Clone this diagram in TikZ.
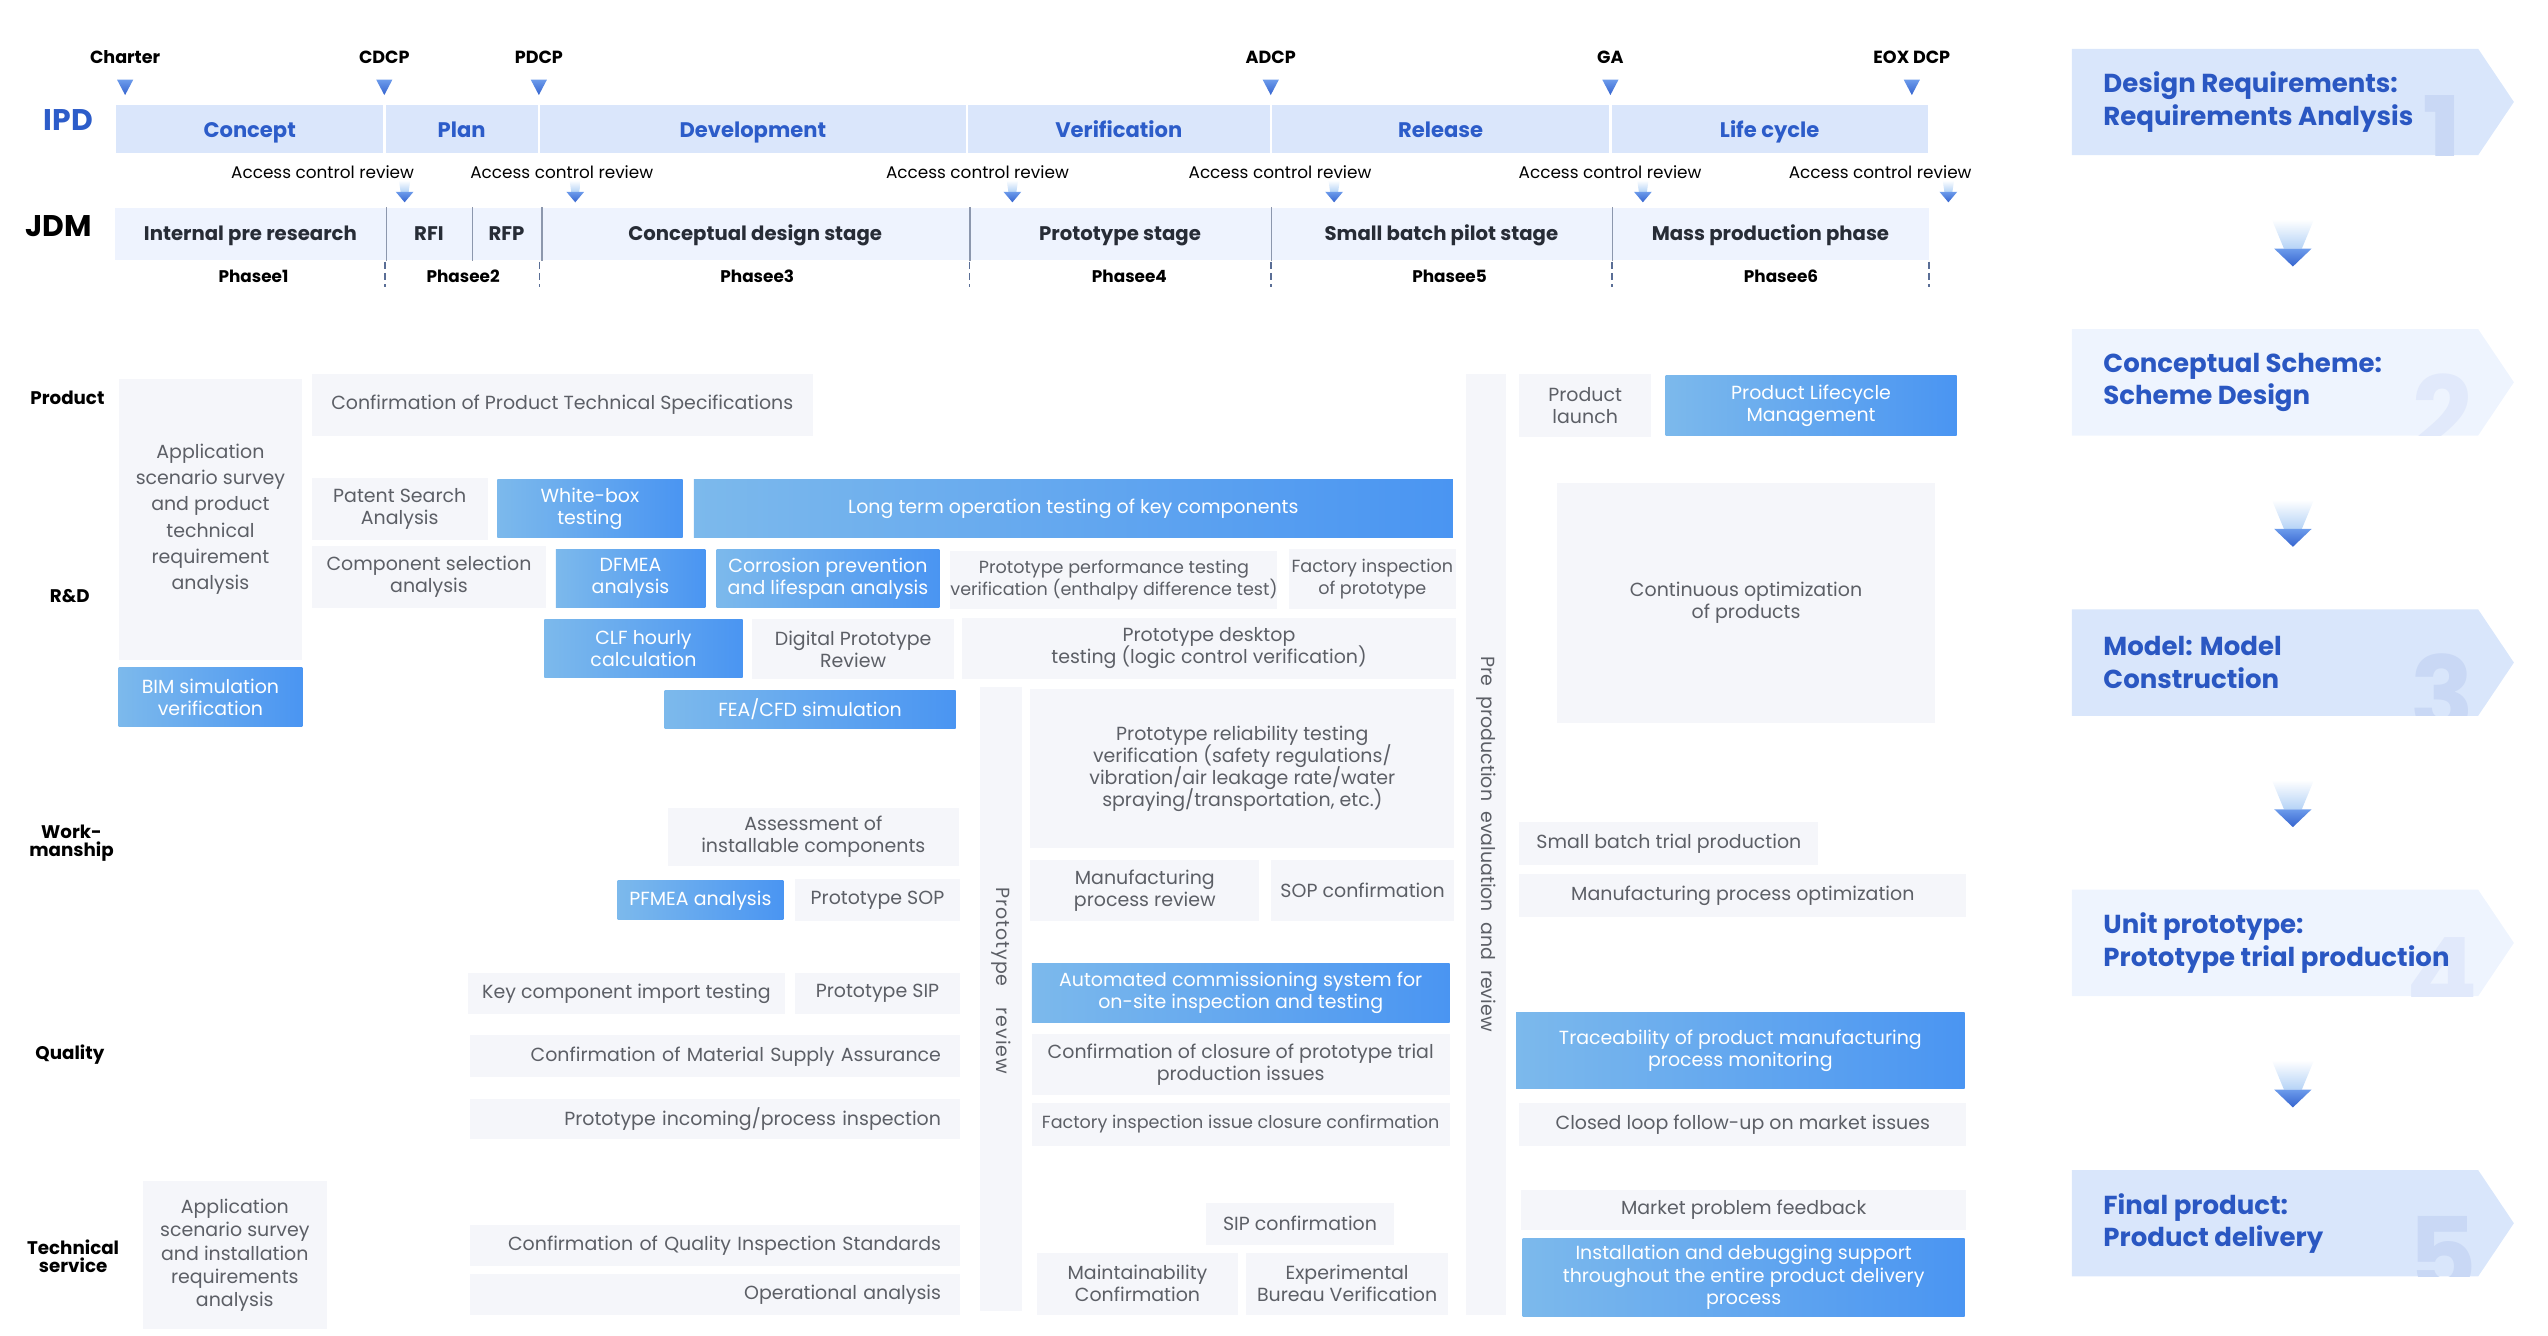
\documentclass[tikz,border=0pt]{standalone}
\usepackage{fontspec}
\setmainfont{Poppins}

\definecolor{cellgray}{HTML}{F5F6FA}
\definecolor{celltext}{HTML}{5C5F66}
\definecolor{blueL}{HTML}{7CB9EC}
\definecolor{blueR}{HTML}{4A95F2}
\definecolor{ipdfill}{HTML}{DAE6FB}
\definecolor{ipdtext}{HTML}{2C5CC9}
\definecolor{jdmfill}{HTML}{EEF3FE}
\definecolor{jdmtext}{HTML}{272C36}
\definecolor{jdmsepcol}{HTML}{8C97AD}
\definecolor{phasecol}{HTML}{5A6E96}
\definecolor{tritop}{HTML}{6C9BEB}
\definecolor{tribot}{HTML}{3564CF}
\definecolor{tailcol}{HTML}{B5D3F6}
\definecolor{chevA}{HTML}{D9E6FB}
\definecolor{chevB}{HTML}{EEF4FE}
\definecolor{numA}{HTML}{C9D8F5}
\definecolor{numB}{HTML}{E1E9FB}
\definecolor{chevtextcol}{HTML}{2A57C2}

\newcommand{\pxu}{0.01625cm}
\newcommand{\bodyfont}{\fontsize{5.4}{6.3}\selectfont\setlength{\lineskiplimit}{-5pt}}
\newcommand{\smallbody}{\fontsize{5}{6.2}\selectfont\setlength{\lineskiplimit}{-5pt}}
% box between two corners: [options]{style}{name}{x1}{y1}{x2}{y2}{text}
\newcommand{\cellbox}[8][]{%
  \node[#2, minimum width={(#6-#4)*\pxu}, minimum height={(#7-#5)*\pxu}, #1]
    (#3) at ({(#4+#6)/2},{(#5+#7)/2}) {#8};}

\tikzset{
  gbox/.style={fill=cellgray, text=celltext, inner sep=0pt, align=center, font=\bodyfont},
  gboxr/.style={gbox, text width=4.52cm, align=right},
  bbox/.style={left color=blueL, right color=blueR, text=white, inner sep=0pt, align=center, font=\bodyfont},
  smallfont/.style={font=\smallbody},
  ipdseg/.style={fill=ipdfill, draw=white, line width=0.7pt, text=ipdtext, inner sep=0pt,
    text height=6.2pt, text depth=1.4pt, font=\fontsize{6}{7}\selectfont\bfseries},
  jdmseg/.style={fill=jdmfill, text=jdmtext, inner sep=0pt,
    text height=5pt, text depth=1.1pt, font=\fontsize{5.6}{7}\selectfont\bfseries},
  jdmsep/.style={draw=jdmsepcol, line width=0.4pt},
  phasesep/.style={draw=phasecol, line width=0.45pt, dash pattern=on 2pt off 1.2pt},
  phaselabel/.style={font=\fontsize{4.8}{6}\selectfont\bfseries, inner sep=0pt},
  milestone/.style={font=\fontsize{5}{6}\selectfont\bfseries, inner sep=0pt},
  review/.style={font=\fontsize{4.8}{6}\selectfont, inner sep=0pt},
  rowlabel/.style={font=\fontsize{5.2}{5.2}\selectfont\bfseries, align=center, inner sep=0pt},
  barlabel/.style={font=\fontsize{8.5}{9}\selectfont\bfseries, inner sep=0pt},
  strip/.style={fill=cellgray, text=celltext, rotate=-90, inner sep=0pt, font=\fontsize{5.4}{6}\selectfont},
  chevtext/.style={anchor=west, align=left, text=chevtextcol, inner sep=0pt, font=\fontsize{7.4}{9.2}\selectfont\bfseries},
  bignum/.style={anchor=base, inner sep=0pt, font=\fontsize{30}{30}\selectfont\bfseries},
}

\begin{document}
\begin{tikzpicture}[x=0.01625cm, y=-0.01625cm]
  \useasboundingbox (0,0) rectangle (1568,822);

  % milestones
  \foreach \nm/\x/\txt in {charter/77/Charter, cdcp/236.5/CDCP, pdcp/331.6/PDCP, adcp/782/ADCP, ga/991/GA, eox/1176.5/EOX DCP}{
    \node[milestone] (\nm) at (\x,35) {\txt};
    \shade[top color=tritop, bottom color=tribot] (\x-5,49) -- (\x+5,49) -- (\x,58.5) -- cycle;
  }

  % IPD bar
  \node[barlabel, text=ipdtext] (ipd) at (42,74) {IPD};
  \foreach \nm/\xa/\xb/\txt in {concept/70.7/236.6/Concept, plan/236.6/331.6/Plan, dev/331.6/595/Development, verif/595/782/Verification, release/782/991/Release, life/991/1187/Life cycle}
    \cellbox{ipdseg}{\nm}{\xa}{64}{\xb}{95}{\txt};

  % access control reviews
  \foreach \i/\lx/\ax in {1/198.5/249, 2/345.7/354, 3/601.5/623, 4/787.7/821, 5/990.8/1011, 6/1157/1199}{
    \node[review] (acr\i) at (\lx,106) {Access control review};
    \shade[top color=white, bottom color=tailcol] (\ax-3.5,111) -- (\ax+3.5,111) -- (\ax+2.5,118) -- (\ax-2.5,118) -- cycle;
    \shade[top color=tritop, bottom color=tribot] (\ax-5.5,118) -- (\ax+5.5,118) -- (\ax,124.5) -- cycle;
  }

  % JDM bar
  \node[barlabel] (jdm) at (36,139) {JDM};
  \foreach \nm/\xa/\xb/\txt in {internalpre/70.7/237.5/Internal pre research, rfi/237.5/290.4/RFI, rfp/290.4/333/RFP, concdesign/333/596.5/Conceptual design stage, protostage/596.5/782/Prototype stage, pilotstage/782/992/Small batch pilot stage, massprod/992/1187/Mass production phase}
    \cellbox{jdmseg}{\nm}{\xa}{128}{\xb}{160}{\txt};
  \foreach \nm in {internalpre, rfi, rfp, concdesign, protostage, pilotstage}
    \draw[jdmsep] (\nm.north east) -- (\nm.south east);

  % phases
  \foreach \x in {237, 332, 596.5, 782, 992, 1187}
    \draw[phasesep] (\x,161) -- (\x,176.5);
  \foreach \i/\x in {1/156, 2/285, 3/466, 4/695, 5/892, 6/1096}
    \node[phaselabel] (phase\i) at (\x,170) {Phasee\i};

  % row labels
  \node[rowlabel] (product) at (41.5,245) {Product};
  \node[rowlabel] (rnd) at (43,367) {R\&D};
  \node[rowlabel] (workmanship) at (44,519) {Work-\\manship};
  \node[rowlabel] (quality) at (43,649) {Quality};
  \node[rowlabel] (techservice) at (45,773) {Technical\\service};

  % work items
  \cellbox[font=\fontsize{5.4}{7.5}\selectfont]{gbox}{appsurvey}{73}{233}{186}{406}{Application\\scenario survey\\and product\\technical\\requirement\\analysis}
  \cellbox{bbox}{bimsim}{73}{411}{186}{447}{BIM simulation\\verification}
  \cellbox{gbox}{techspec}{192}{230}{500}{268}{Confirmation of Product Technical Specifications}
  \cellbox{gbox}{patent}{192}{294}{300}{332}{Patent Search\\Analysis}
  \cellbox{bbox}{whitebox}{306}{295}{420}{331}{White-box\\testing}
  \cellbox{bbox}{longterm}{427}{295}{894}{331}{Long term operation testing of key components}
  \cellbox{gbox}{compsel}{192}{336}{336}{374}{Component selection\\analysis}
  \cellbox{bbox}{dfmea}{342}{338}{434}{374}{DFMEA\\analysis}
  \cellbox{bbox}{corrosion}{441}{338}{578}{374}{Corrosion prevention\\and lifespan analysis}
  \cellbox[smallfont]{gbox}{perftest}{585}{339}{786}{375}{Prototype performance testing\\verification (enthalpy difference test)}
  \cellbox[smallfont]{gbox}{factinsp}{793}{338}{896}{375}{Factory inspection\\of prototype}
  \cellbox{bbox}{clf}{335}{381}{457}{417}{CLF hourly\\calculation}
  \cellbox{gbox}{digproto}{463}{381}{587}{418}{Digital Prototype\\Review}
  \cellbox{gbox}{desktop}{592}{380}{896}{418}{Prototype desktop\\testing (logic control verification)}
  \cellbox{bbox}{feacfd}{409}{425}{588}{448}{FEA/CFD simulation}
  \cellbox{gbox}{reliab}{634}{424}{895}{522}{Prototype reliability testing\\verification (safety regulations/\\vibration/air leakage rate/water\\spraying/transportation, etc.)}
  \cellbox{gbox}{assess}{411}{497}{590}{533}{Assessment of\\installable components}
  \cellbox{bbox}{pfmea}{380}{542}{482}{566}{PFMEA analysis}
  \cellbox{gbox}{protosop}{489}{541}{591}{567}{Prototype SOP}
  \cellbox{gbox}{mfgreview}{634}{529}{775}{567}{Manufacturing\\process review}
  \cellbox{gbox}{sopconf}{782}{529}{895}{567}{SOP confirmation}
  \cellbox{gbox}{keycomp}{288}{599}{483}{624}{Key component import testing}
  \cellbox{gbox}{protosip}{489}{599}{591}{624}{Prototype SIP}
  \cellbox{bbox}{autocomm}{635}{593}{892}{629}{Automated commissioning system for\\on-site inspection and testing}
  \cellbox{gboxr}{matsupply}{289}{637}{591}{663}{Confirmation of Material Supply Assurance}
  \cellbox{gbox}{closure}{635}{636}{892}{674}{Confirmation of closure of prototype trial\\production issues}
  \cellbox{gboxr}{incoming}{289}{676}{591}{701}{Prototype incoming/process inspection}
  \cellbox[smallfont]{gbox}{factclose}{635}{679}{892}{705}{Factory inspection issue closure confirmation}
  \cellbox[font=\fontsize{5.4}{6.6}\selectfont]{gbox}{tsurvey}{88}{727}{201}{818}{Application\\scenario survey\\and installation\\requirements\\analysis}
  \cellbox{gbox}{sipconf}{742}{740}{858}{766}{SIP confirmation}
  \cellbox{gboxr}{qistd}{289}{754}{591}{779}{Confirmation of Quality Inspection Standards}
  \cellbox{gboxr}{opanalysis}{289}{784}{591}{809}{Operational analysis}
  \cellbox{gbox}{maintain}{638}{771}{762}{809}{Maintainability\\Confirmation}
  \cellbox{gbox}{expbureau}{767}{771}{891}{809}{Experimental\\Bureau Verification}
  \cellbox{gbox}{launch}{935}{230}{1016}{269}{Product\\launch}
  \cellbox{bbox}{plm}{1025}{231}{1204}{268}{Product Lifecycle\\Management}
  \cellbox{gbox}{contopt}{958}{297}{1191}{445}{Continuous optimization\\of products}
  \cellbox{gbox}{smallbatch}{935}{506}{1119}{532}{Small batch trial production}
  \cellbox{gbox}{mfgopt}{935}{538}{1210}{564}{Manufacturing process optimization}
  \cellbox{bbox}{trace}{933}{623}{1209}{670}{Traceability of product manufacturing\\process monitoring}
  \cellbox{gbox}{closedloop}{935}{679}{1210}{705}{Closed loop follow-up on market issues}
  \cellbox{gbox}{mktfb}{936}{732}{1210}{757}{Market problem feedback}
  \cellbox{bbox}{install}{937}{762}{1209}{810}{Installation and debugging support\\throughout the entire product delivery\\process}

  % review strips
  \node[strip, minimum width={384*\pxu}, minimum height={26*\pxu}] (protoreview) at (616,615)
    {\addfontfeatures{LetterSpace=5}Prototype\hspace{6pt}review\hspace{10.6pt}\null};
  \node[strip, minimum width={579*\pxu}, minimum height={25*\pxu}] (preprod) at (914.5,519.5) {Pre~~production~~evaluation~~and~~review};

  % stages on the right
  \foreach \i/\ty/\cf/\cn/\txt in {1/30/chevA/numA/{Design Requirements:\\Requirements Analysis}, 2/202.5/chevB/numB/{Conceptual Scheme:\\Scheme Design}, 3/375/chevA/numA/{Model: Model\\Construction}, 4/547.5/chevB/numB/{Unit prototype:\\Prototype trial production}, 5/720/chevA/numA/{Final product:\\Product delivery}}{
    \begin{scope}
      \fill[\cf] (1275,\ty) -- ++(250,0) -- ++(22,32.75) -- ++(-22,32.75) -- ++(-250,0) -- cycle;
      \clip (1275,\ty) -- ++(250,0) -- ++(22,32.75) -- ++(-22,32.75) -- ++(-250,0) -- cycle;
      \node[bignum, text=\cn] (num\i) at (1503,\ty+76) {\i};
    \end{scope}
    \node[chevtext] (stage\i) at (1294,\ty+32.75) {\txt};
  }
  \foreach \ty in {135, 307.5, 480, 652.5}{
    \shade[top color=white, bottom color=tailcol] (1398,\ty) -- (1424,\ty) -- (1416.5,\ty+18) -- (1405.5,\ty+18) -- cycle;
    \shade[top color=tritop, bottom color=tribot] (1399.5,\ty+18) -- (1422.5,\ty+18) -- (1411,\ty+29) -- cycle;
  }
\end{tikzpicture}
\end{document}
